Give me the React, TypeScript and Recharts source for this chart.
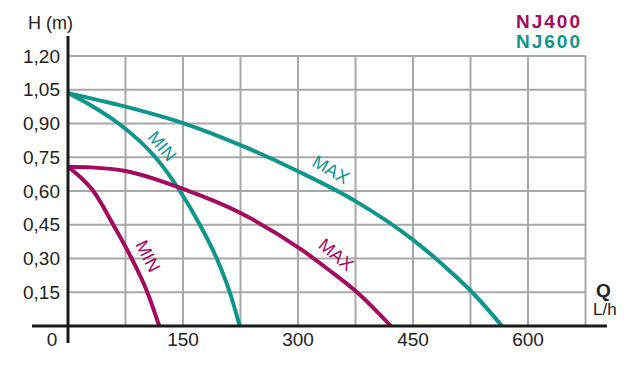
import React from 'react';
import { LineChart, Line, XAxis, YAxis, CartesianGrid, ReferenceLine, ReferenceDot } from 'recharts';

const PURPLE = '#a30a5e';
const TEAL = '#0f968b';
const FONT = '"Liberation Sans", Arial, sans-serif';

// flow Q (L/h) and head H (m)
const nj600MaxQ = [0, 75, 150, 225, 300, 375, 450, 500, 530, 566];
const nj600MaxH = [1.035, 0.975, 0.902, 0.804, 0.688, 0.555, 0.383, 0.238, 0.14, 0];
const nj600MinQ = [0, 35, 66, 114, 146, 172, 194, 211, 224];
const nj600MinH = [1.035, 0.97, 0.9, 0.75, 0.6, 0.45, 0.3, 0.15, 0];
const nj400MaxQ = [0, 30, 75, 150, 225, 305, 340, 377, 421];
const nj400MaxH = [0.708, 0.705, 0.689, 0.609, 0.502, 0.338, 0.25, 0.15, 0];
const nj400MinQ = [0, 15, 33, 59, 83, 103.5, 119];
const nj400MinH = [0.708, 0.665, 0.6, 0.45, 0.3, 0.15, 0];

const xTicks = [0, 75, 150, 225, 300, 375, 450, 525, 600, 675];
const xLabels = [0, 150, 300, 450, 600];
const yTicks = [0, 0.15, 0.3, 0.45, 0.6, 0.75, 0.9, 1.05, 1.2];

// curve tags: [text, color, Q, H, angle]
const tags: [string, string, number, number, number][] = [
  ['MIN', TEAL, 123, 0.8, 50],
  ['MAX', TEAL, 343, 0.696, 30],
  ['MIN', PURPLE, 104.5, 0.311, 63],
  ['MAX', PURPLE, 350, 0.318, 40],
];

const toPoints = (q: number[], h: number[]) => q.map((v, i) => ({ q: v, h: h[i] }));

const series = [
  { key: 'nj600max', color: TEAL, data: toPoints(nj600MaxQ, nj600MaxH) },
  { key: 'nj600min', color: TEAL, data: toPoints(nj600MinQ, nj600MinH) },
  { key: 'nj400max', color: PURPLE, data: toPoints(nj400MaxQ, nj400MaxH) },
  { key: 'nj400min', color: PURPLE, data: toPoints(nj400MinQ, nj400MinH) },
];

const XTick = (props: any) => {
  const { x, y, payload } = props;
  if (!xLabels.includes(payload.value)) return null;
  const shift = payload.value === 0 ? -16 : 0;
  return (
    <text x={x + shift} y={y + 5} dy="0.71em" textAnchor="middle" fontFamily={FONT} fontSize={19} fill="#222">
      {payload.value}
    </text>
  );
};

const YTick = (props: any) => {
  const { x, y, payload } = props;
  if (payload.value === 0) return null;
  return (
    <text x={x} y={y} dy="0.355em" textAnchor="end" fontFamily={FONT} fontSize={19} fill="#222">
      {payload.value.toFixed(2).replace('.', ',')}
    </text>
  );
};

const tagLabel = (text: string, color: string, angle: number) => (props: any) => {
  const { x, y } = props.viewBox;
  return (
    <text
      x={x}
      y={y}
      dy="0.355em"
      textAnchor="middle"
      transform={`rotate(${angle}, ${x}, ${y})`}
      fontFamily={FONT}
      fontSize={18}
      fill={color}
    >
      {text}
    </text>
  );
};

export default function App() {
  return (
    <div style={{ position: 'absolute', left: 0, top: 0, width: 640, height: 377, background: '#fff' }}>
      <LineChart width={640} height={377} margin={{ top: 56, right: 54.5, bottom: 0, left: 0 }}>
        <CartesianGrid stroke="#a8a8a8" strokeWidth={2} />
        <XAxis
          type="number"
          dataKey="q"
          domain={[0, 675]}
          ticks={xTicks}
          axisLine={false}
          tickLine={false}
          tickSize={0}
          tickMargin={2}
          height={51}
          tick={<XTick />}
          allowDataOverflow
        />
        <YAxis
          type="number"
          domain={[0, 1.2]}
          ticks={yTicks}
          axisLine={false}
          tickLine={false}
          tickSize={0}
          tickMargin={8}
          width={68}
          tick={<YTick />}
          allowDataOverflow
        />
        {series.map((s) => (
          <Line
            key={s.key}
            data={s.data}
            dataKey="h"
            type="monotone"
            stroke={s.color}
            strokeWidth={4}
            dot={false}
            isAnimationActive={false}
          />
        ))}
        <ReferenceLine
          segment={[{ x: -47, y: 0 }, { x: 703, y: 0 }]}
          stroke="#1a1a1a"
          strokeWidth={3}
          ifOverflow="visible"
        />
        <ReferenceLine
          segment={[{ x: 0, y: 1.289 }, { x: 0, y: -0.076 }]}
          stroke="#1a1a1a"
          strokeWidth={3}
          ifOverflow="visible"
        />
        {tags.map(([text, color, q, h, angle], i) => (
          <ReferenceDot
            key={i}
            x={q}
            y={h}
            r={0}
            fill="none"
            stroke="none"
            label={{ content: tagLabel(text, color, angle) }}
          />
        ))}
      </LineChart>
      <svg width={640} height={377} style={{ position: 'absolute', left: 0, top: 0, pointerEvents: 'none' }}>
        <text x={28} y={28.5} fontFamily={FONT} fontSize={18} fill="#222">H (m)</text>
        <text x={516} y={28} fontFamily={FONT} fontSize={19} fontWeight="bold" letterSpacing={2} fill={PURPLE}>NJ400</text>
        <text x={516} y={48} fontFamily={FONT} fontSize={19} fontWeight="bold" letterSpacing={2} fill={TEAL}>NJ600</text>
        <text x={596} y={297} fontFamily={FONT} fontSize={19} fontWeight="bold" fill="#222">Q</text>
        <text x={593} y={315} fontFamily={'"Liberation Sans Narrow", ' + FONT} fontSize={17} fill="#222">L/h</text>
      </svg>
    </div>
  );
}
